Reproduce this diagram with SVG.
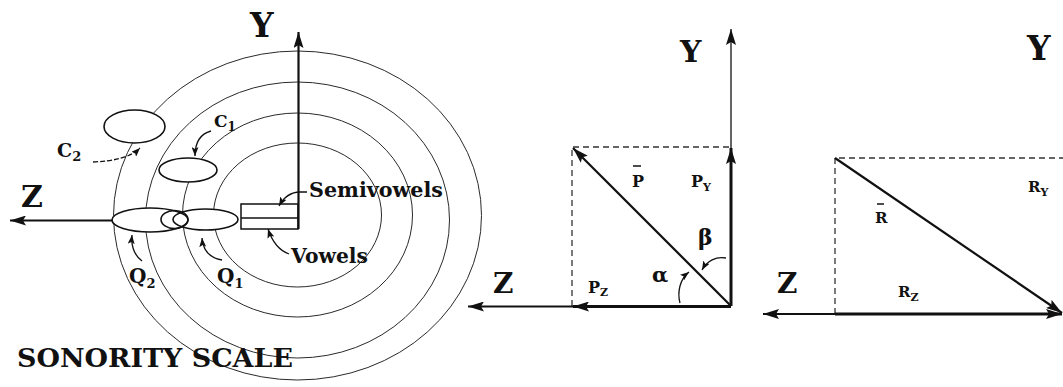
<svg xmlns="http://www.w3.org/2000/svg" width="1063" height="387" viewBox="0 0 1063 387">
<style>
text{font-family:"DejaVu Serif","Liberation Serif",serif;font-weight:bold;fill:#111}
.ring{fill:none;stroke:#2a2a2a;stroke-width:1}
.blob{fill:#fff;stroke:none}
.blobl{fill:none;stroke:#111;stroke-width:1.6}
.axis{stroke:#111;stroke-width:2.2;fill:none}
.vec{stroke:#111;stroke-width:3;fill:none}
.thin{stroke:#111;stroke-width:1.3;fill:none}
.dash{stroke:#333;stroke-width:1.3;fill:none;stroke-dasharray:6 4}
.bar{stroke:#111;stroke-width:1.5}
</style>
<defs>
<marker id="big" viewBox="0 0 16 10" refX="16" refY="5" markerWidth="16" markerHeight="10" markerUnits="userSpaceOnUse" orient="auto">
<path d="M0,0 L16,5 L0,10 L3,5 z" fill="#111"/>
</marker>
<marker id="small" viewBox="0 0 9 7" refX="9" refY="3.5" markerWidth="9" markerHeight="7" markerUnits="userSpaceOnUse" orient="auto">
<path d="M0,0 L9,3.5 L0,7 L2,3.5 z" fill="#111"/>
</marker>
</defs>

<g id="sonority-rings">
<ellipse class="ring" cx="297.5" cy="215.5" rx="184" ry="164.5"/>
<ellipse class="ring" cx="297.5" cy="220" rx="152" ry="138"/>
<ellipse class="ring" cx="297.5" cy="215" rx="115" ry="102"/>
<ellipse class="ring" cx="297.5" cy="215" rx="84" ry="72"/>
</g>

<g id="ellipse-fills">
<ellipse class="blob" cx="134.5" cy="126.5" rx="30.5" ry="16.5"/>
<ellipse class="blob" cx="188" cy="170" rx="29" ry="12"/>
<ellipse class="blob" cx="150" cy="220" rx="38" ry="12"/>
<ellipse class="blob" cx="205.5" cy="219.5" rx="32.5" ry="10.5"/>
</g>
<g id="C2"><ellipse class="blobl" cx="134.5" cy="126.5" rx="30.5" ry="16.5"/><text x="57" y="157" font-size="19">C<tspan font-size="13" dy="4">2</tspan></text></g>
<g id="C1"><ellipse class="blobl" cx="188" cy="170" rx="29" ry="12"/><text x="214" y="127" font-size="17">C<tspan font-size="12" dy="4">1</tspan></text></g>
<g id="Q2"><ellipse class="blobl" cx="150" cy="220" rx="38" ry="12"/><text x="129" y="283" font-size="20">Q<tspan font-size="13" dy="5">2</tspan></text></g>
<g id="Q1"><ellipse class="blobl" cx="205.5" cy="219.5" rx="32.5" ry="10.5"/><ellipse class="blobl" cx="174.5" cy="219.5" rx="13.5" ry="9"/><text x="217" y="283" font-size="20">Q<tspan font-size="13" dy="5">1</tspan></text></g>
<g id="vowels-box"><rect x="241" y="204" width="57" height="25" fill="none" stroke="#111" stroke-width="1.5"/><line x1="241" y1="218" x2="298" y2="218" stroke="#111" stroke-width="1.5"/></g>
<g id="semivowels-label"><text x="309" y="197" font-size="19.5" textLength="134" lengthAdjust="spacingAndGlyphs">Semivowels</text></g>
<g id="vowels-label"><text x="291" y="263" font-size="19.5" textLength="77" lengthAdjust="spacingAndGlyphs">Vowels</text></g>
<g id="left-axes-labels"><text x="250" y="37" font-size="33">Y</text><text x="21" y="207" font-size="30">Z</text></g>
<g id="title"><text x="17" y="367" font-size="26" textLength="276" lengthAdjust="spacingAndGlyphs">SONORITY SCALE</text></g>

<g id="middle-labels">
<text x="680" y="62" font-size="30">Y</text>
<text x="493" y="293" font-size="28">Z</text>
<text x="632" y="187" font-size="16">P</text><line class="bar" x1="633" y1="166" x2="641" y2="166"/>
<text x="691" y="187" font-size="16">P<tspan font-size="11" dy="4">Y</tspan></text>
<text x="588" y="293" font-size="16">P<tspan font-size="11" dy="3">Z</tspan></text>
<text x="698" y="245" font-size="22" font-weight="normal">β</text>
<text x="652" y="282" font-size="21" font-weight="normal">α</text>
</g>

<g id="right-labels">
<text x="1027" y="60" font-size="33">Y</text>
<text x="777" y="293" font-size="28">Z</text>
<text x="875" y="223" font-size="15">R</text><line class="bar" x1="877" y1="204" x2="884" y2="204"/>
<text x="1028" y="192" font-size="15">R<tspan font-size="11" dy="4">Y</tspan></text>
<text x="898" y="297" font-size="15">R<tspan font-size="11" dy="4">Z</tspan></text>
</g>

<g id="connectors">
<line class="axis" x1="298.5" y1="229" x2="298.5" y2="32" marker-end="url(#big)"/>
<line class="axis" x1="112" y1="220.5" x2="10" y2="220.5" marker-end="url(#big)"/>
<path class="thin" d="M307,192 L300,192 C291,192 284,197 279,206" marker-end="url(#small)"/>
<path class="thin" d="M289,254 C278,250 272,241 268,229" marker-end="url(#small)"/>
<path class="thin" d="M211,131 C200,134 195,142 195,156" marker-end="url(#small)"/>
<path class="thin" d="M93,162 C113,161 130,158 140,148" stroke-dasharray="5 2" marker-end="url(#small)"/>
<path class="thin" d="M142,261 C134,255 131,246 132,235" marker-end="url(#small)"/>
<path class="thin" d="M222,260 C210,258 203,250 202,238" marker-end="url(#small)"/>

<path class="dash" d="M572,306 L572,147 L731,147"/>
<line class="thin" x1="731" y1="306" x2="731" y2="29" stroke-width="1.6" marker-end="url(#big)"/>
<line class="vec" x1="731" y1="306" x2="731" y2="148" marker-end="url(#big)"/>
<line class="axis" x1="731" y1="306.5" x2="468" y2="306.5" marker-end="url(#big)"/>
<line class="vec" x1="731" y1="306.5" x2="573" y2="306.5" marker-end="url(#big)"/>
<line class="axis" x1="731" y1="306" x2="573" y2="148" stroke-width="2.6" marker-end="url(#big)"/>
<path class="thin" d="M726,258 C716,256 707,261 702,270" marker-end="url(#small)"/>
<path class="thin" d="M680,303 C677,292 680,279 689,272" marker-end="url(#small)"/>

<path class="dash" d="M835,314 L835,158 L1063,158"/>
<line class="axis" x1="835" y1="314" x2="763" y2="314" marker-end="url(#big)"/>
<line class="vec" x1="835" y1="314" x2="1062" y2="314" marker-end="url(#big)"/>
<line class="axis" x1="835" y1="158" x2="1062" y2="313" stroke-width="2.6" marker-end="url(#big)"/>
</g>
</svg>
